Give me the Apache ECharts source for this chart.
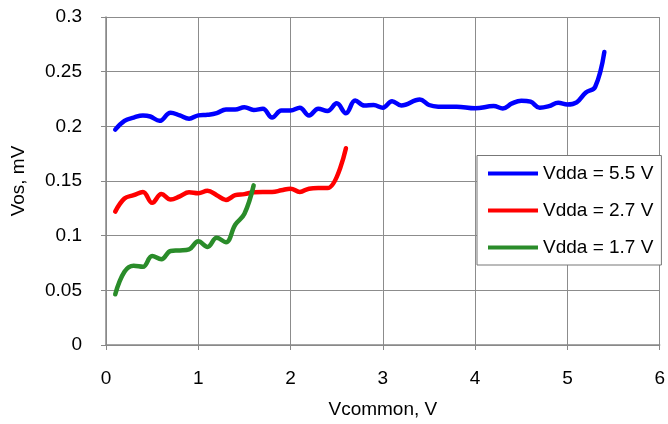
<!DOCTYPE html>
<html><head><meta charset="utf-8">
<script src="https://cdn.jsdelivr.net/npm/echarts@6/dist/echarts.min.js"></script>
<style>html,body{margin:0;padding:0;background:#fff}#c{width:668px;height:424px}</style>
</head><body><div id="c"></div>
<script>
const xTicks = [0,1,2,3,4,5,6];
const yTicks = [0,0.05,0.1,0.15,0.2,0.25,0.3];
const seriesNames = ['Vdda = 5.5 V','Vdda = 2.7 V','Vdda = 1.7 V'];
const v55x = [0.1,0.2,0.3,0.4,0.48,0.58,0.7,0.8,0.9,1.0,1.1,1.2,1.3,1.4,1.5,1.6,1.7,1.8,1.9,2.0,2.1,2.2,2.3,2.4,2.5,2.6,2.7,2.8,2.9,3.0,3.1,3.2,3.4,3.5,3.6,3.8,4.0,4.2,4.3,4.4,4.5,4.6,4.7,4.8,4.9,5.0,5.1,5.2,5.3,5.4];
const v55y = [0.197,0.205,0.208,0.21,0.209,0.205,0.2125,0.21,0.207,0.21,0.2105,0.212,0.2155,0.2155,0.2175,0.215,0.216,0.208,0.2145,0.2145,0.217,0.21,0.216,0.214,0.221,0.212,0.2236,0.219,0.2194,0.217,0.223,0.219,0.2245,0.2195,0.218,0.218,0.2165,0.2185,0.2164,0.221,0.2235,0.2225,0.217,0.2185,0.2215,0.22,0.222,0.231,0.236,0.268];
const v27x = [0.1,0.2,0.3,0.4,0.5,0.6,0.7,0.8,0.9,1.0,1.1,1.2,1.3,1.4,1.5,1.6,1.7,1.8,1.9,2.0,2.1,2.2,2.3,2.4,2.6];
const v27y = [0.122,0.134,0.137,0.14,0.13,0.138,0.133,0.136,0.1397,0.1388,0.141,0.137,0.1327,0.137,0.138,0.1397,0.14,0.14,0.1415,0.143,0.14,0.143,0.1435,0.1435,0.18];
const v17x = [0.1,0.2,0.3,0.4,0.5,0.6,0.7,0.8,0.9,1.0,1.1,1.2,1.3,1.4,1.5,1.6];
const v17y = [0.0464,0.067,0.0725,0.0715,0.0815,0.0785,0.086,0.0865,0.0875,0.0948,0.0897,0.098,0.094,0.11,0.12,0.146];
const colors = ['#0000ff','#ff0000','#2a8c2a'];

const pairs = (xs, ys) => xs.map((x, i) => [x, ys[i]]);
const font = 'Liberation Sans, Arial, sans-serif';
const chart = echarts.init(document.getElementById('c'), null, {renderer:'canvas'});
const mk = (i, xs, ys) => ({
  name: seriesNames[i], type:'line', data: pairs(xs, ys), smooth: 0.4,
  showSymbol:false, symbol:'none', color: colors[i],
  lineStyle:{width:4.5, color: colors[i], cap:'round', join:'round'}
});
chart.setOption({
  animation:false,
  textStyle:{fontFamily:font},
  grid:{left:106, right:4, top:17, bottom:77, containLabel:false},
  xAxis:{type:'value', min:xTicks[0], max:xTicks[xTicks.length-1], interval:1,
    name:'Vcommon, V', nameLocation:'middle', nameGap:55,
    nameTextStyle:{fontSize:19, color:'#000', fontFamily:font},
    axisLine:{show:true, lineStyle:{color:'#888', width:1.5}},
    axisTick:{show:true, inside:false, length:5, lineStyle:{color:'#888'}},
    axisLabel:{fontSize:19, color:'#000', margin:24, fontFamily:font},
    splitLine:{show:true, lineStyle:{color:'#8c8c8c', width:1}}},
  yAxis:{type:'value', min:yTicks[0], max:yTicks[yTicks.length-1], interval:0.05,
    name:'Vos, mV', nameLocation:'middle', nameGap:78,
    nameTextStyle:{fontSize:19, color:'#000', fontFamily:font},
    axisLine:{show:true, lineStyle:{color:'#888', width:1.5}},
    axisTick:{show:true, inside:false, length:5, lineStyle:{color:'#888'}},
    axisLabel:{fontSize:19, color:'#000', margin:24, fontFamily:font},
    splitLine:{show:true, lineStyle:{color:'#8c8c8c', width:1}}},
  legend:{show:true, orient:'vertical', left:477, top:155.5,
    backgroundColor:'#fff', borderColor:'#777', borderWidth:1,
    padding:[8.5,8,8,11], itemGap:18, itemWidth:50, itemHeight:4, icon:'rect',
    textStyle:{fontSize:19, color:'#000', lineHeight:19, fontFamily:font},
    data: seriesNames},
  series:[mk(0, v55x, v55y), mk(1, v27x, v27y), mk(2, v17x, v17y)]
});
</script></body></html>
